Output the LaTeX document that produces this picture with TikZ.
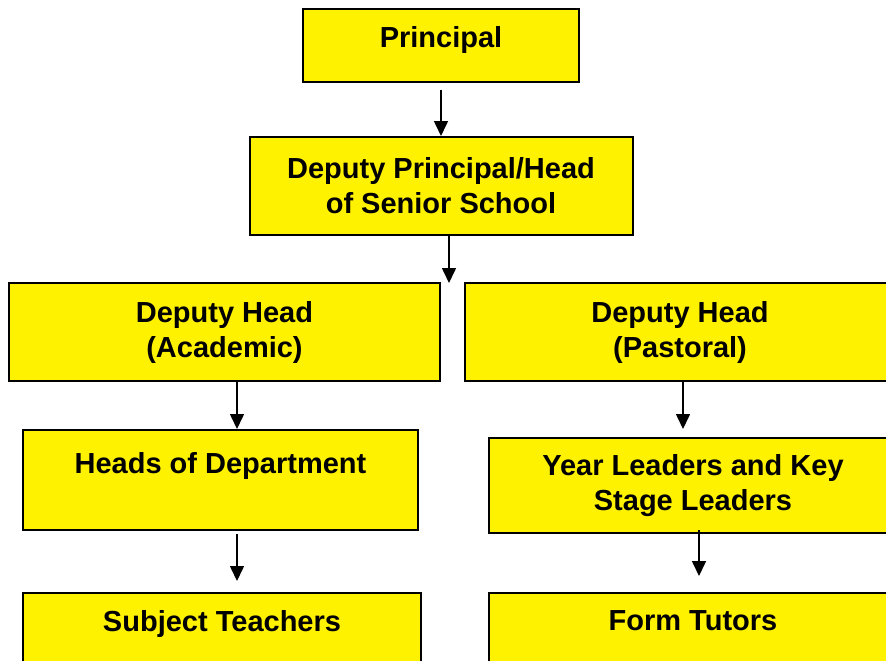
\documentclass[tikz,border=0pt]{standalone}
\usepackage{fontspec}
\setmainfont{Liberation Sans}
\usetikzlibrary{positioning,arrows.meta}

\begin{document}
\begin{tikzpicture}[x=1pt,y=-1pt,every node/.style={rectangle,draw=black,line width=2pt,fill=yellow,inner sep=0pt,align=center,font=\fontsize{29}{35}\selectfont\bfseries},
	arr/.style={-{Triangle[length=15pt,width=14pt]},line width=1.6pt}]
			\useasboundingbox (0,0) rectangle (886,661);
			\clip (0,0) rectangle (886,661);

			\node[minimum width=276pt,minimum height=73pt,text height=20pt,text depth=15pt] (n1) at (441,45.5) {Principal};
			\node[minimum width=383pt,minimum height=98pt] (n2) at (441,186) {Deputy Principal/Head\\of Senior School};
			\node[minimum width=431pt,minimum height=98pt] (n3) at (224.5,332) {Deputy Head\\(Academic)};
			\node[minimum width=431pt,minimum height=98pt] (n4) at (680,332) {Deputy Head\\(Pastoral)};
			\node[minimum width=395pt,minimum height=100pt] (n5) at (220.5,480) {Heads of Department\\ \mbox{}};
			\node[minimum width=408pt,minimum height=95pt] (n6) at (693,485.5) {Year Leaders and Key\\Stage Leaders};
			\node[minimum width=398pt,minimum height=90pt] (n7) at (222,638) {Subject Teachers\\ \mbox{}};
			\node[minimum width=408pt,minimum height=90pt] (n8) at (693,638) {Form Tutors\\ \mbox{}};
			\coordinate (c1) at (449,283);

			\draw[arr,shorten <=7pt] (n1) -- (n2);
			\draw[arr] (n2.south -| c1) -- (c1);
			\draw[arr] ([xshift=12.5pt]n3.south) -- ([xshift=12.5pt]n3.south |- n5.north);
			\draw[arr,shorten >=8pt] ([xshift=3pt]n4.south) -- ([xshift=3pt]n4.south |- n6.north);
			\draw[arr,shorten <=3pt,shorten >=11pt] ([xshift=16.5pt]n5.south) -- ([xshift=16.5pt]n5.south |- n7.north);
			\draw[arr,shorten <=-4pt,shorten >=16pt] ([xshift=6pt]n6.south) -- ([xshift=6pt]n6.south |- n8.north);
		\end{tikzpicture}
\end{document}
